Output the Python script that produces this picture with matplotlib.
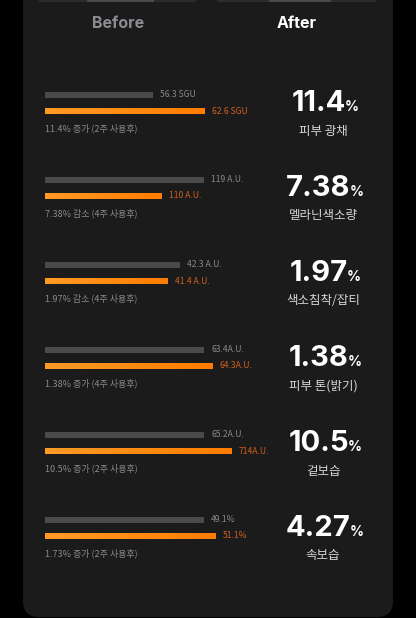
import matplotlib
matplotlib.use('Agg')
import matplotlib.pyplot as plt
import numpy as np
from matplotlib.patches import FancyBboxPatch

plt.rcParams['font.family'] = ['Noto Sans CJK KR', 'DejaVu Sans']

before_labels = ['56.3 SGU', '119 A.U.', '42.3 A.U.', '63.4A.U.', '65.2A.U.', '49.1%']
after_labels = ['62.6 SGU', '110 A.U.', '41.4 A.U.', '64.3A.U.', '714A.U.', '51.1%']
# displayed bar lengths (as drawn in the picture, not proportional to the labels)
before_len = [108, 159, 135, 159, 159, 159]
after_len = [160, 117, 123, 168, 187, 171]
notes = ['11.4% 증가 (2주 사용후)', '7.38% 감소 (4주 사용후)', '1.97% 감소 (4주 사용후)',
         '1.38% 증가 (4주 사용후)', '10.5% 증가 (2주 사용후)', '1.73% 증가 (2주 사용후)']
big_nums = ['11.4', '7.38', '1.97', '1.38', '10.5', '4.27']
names = ['피부 광채', '멜라닌색소량', '색소침착/잡티', '피부 톤(밝기)', '겉보습', '속보습']

W, H = 416, 618
fig = plt.figure(figsize=(W / 100, H / 100), dpi=100, facecolor='black')
ax = fig.add_axes([0, 0, 1, 1])
ax.set_xlim(0, W)
ax.set_ylim(H, 0)
ax.axis('off')
ax.set_facecolor('black')

# panel
panel = FancyBboxPatch((23, -40), 370, 657, boxstyle='round,pad=0,rounding_size=16',
                       fc='#1b1b1b', ec='none')
ax.add_patch(panel)
ax.plot([40, 195], [0.5, 0.5], color='#2c2c2c', lw=1.5)
ax.plot([218, 375], [0.5, 0.5], color='#2c2c2c', lw=1.5)
ax.plot([88, 153], [0.5, 0.5], color='#4a4a4a', lw=1.5)
ax.plot([270, 330], [0.5, 0.5], color='#4a4a4a', lw=1.5)

ax.text(118, 23, 'Before', color='#8d8990', fontsize=11.5, fontweight='bold',
        ha='center', va='center', family='Inter')
ax.text(297, 23, 'After', color='white', fontsize=11.5, fontweight='bold',
        ha='center', va='center', family='Inter')

x0 = 45
row0 = 94.5
step = 85
y_b = [row0 + i * step for i in range(len(names))]
y_a = [y + 16.5 for y in y_b]

ax.barh(y_b, before_len, left=x0, height=6, color='#4a4a4a')
bars = ax.barh(y_a, after_len, left=x0, height=6.5, color='#ff8410')

grad = np.linspace(0, 1, 256).reshape(1, -1)
cmap = matplotlib.colors.LinearSegmentedColormap.from_list('o', ['#ff9a26', '#ff7c00'])
for b in bars:
    x, y, w, h = b.get_x(), b.get_y(), b.get_width(), b.get_height()
    im = ax.imshow(grad, extent=[x, x + w, y + h, y], cmap=cmap, aspect='auto', zorder=3)
    im.set_clip_path(b)

for i in range(len(names)):
    ax.text(x0 + before_len[i] + 7, y_b[i], before_labels[i], color='#8a8a8a',
            fontsize=6.2, va='center', ha='left')
    ax.text(x0 + after_len[i] + 7, y_a[i], after_labels[i], color='#d2601e',
            fontsize=6.2, va='center', ha='left')
    ax.text(x0, y_b[i] + 34, notes[i], color='#8a8a8a', fontsize=6.5,
            va='center', ha='left')

fig.canvas.draw()
r = fig.canvas.get_renderer()
cx = 325
for i in range(len(names)):
    yc = y_b[i] + 9
    t1 = ax.text(0, yc, big_nums[i], color='white', fontsize=21, fontweight='bold',
                 ha='left', va='center', family='Inter')
    t2 = ax.text(0, yc + 3.5, '%', color='white', fontsize=10, fontweight='bold',
                 ha='left', va='center', family='Inter')
    w1 = t1.get_window_extent(r).width
    w2 = t2.get_window_extent(r).width
    gap = -1
    total = w1 + gap + w2
    start = cx - total / 2
    t1.set_x(start)
    t2.set_x(start + w1 + gap)
    ax.text(cx - 2, y_b[i] + 36.5, names[i], color='#d6d6d6', fontsize=9,
            ha='center', va='center')

fig.savefig('out.png', dpi=100, facecolor='black')
